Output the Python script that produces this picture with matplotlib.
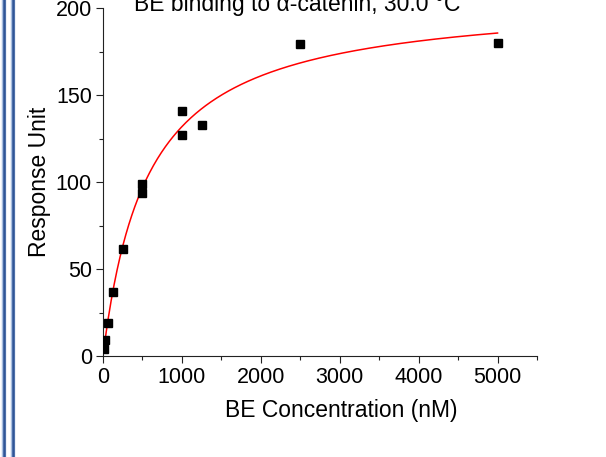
import numpy as np
import matplotlib
matplotlib.use('Agg')
import matplotlib.pyplot as plt
from matplotlib.lines import Line2D
from matplotlib.ticker import MultipleLocator

plt.rcParams['font.family'] = ['Liberation Sans', 'DejaVu Sans']

# BE concentrations (nM) and SPR responses
conc = [15.6, 31.25, 62.5, 125, 250, 500, 500, 1000, 1000, 1250, 2500, 5000]
response = [4.0, 9.2, 19.0, 36.6, 61.7, 98.9, 93.7, 140.8, 127.0, 132.8, 179.3, 180.0]

# one-site binding fit: R = Bmax * C / (Kd + C)
bmax = 206.7
kd = 568.0

xfit = np.linspace(conc[0], conc[-1], 400)
yfit = bmax * xfit / (kd + xfit)

fig = plt.figure(figsize=(6.06, 4.57), dpi=100)
ax = fig.add_axes([103 / 606, 1 - 356 / 457, 434 / 606, 348 / 457])

ax.plot(xfit, yfit, color='#ff0000', lw=1.1, zorder=2)
ax.plot(conc, response, ls='none', marker='s', ms=5.4, color='black', zorder=3)

ax.set_xlim(0, 5500)
ax.set_ylim(0, 200)
ax.xaxis.set_major_locator(MultipleLocator(1000))
ax.xaxis.set_minor_locator(MultipleLocator(500))
ax.yaxis.set_major_locator(MultipleLocator(50))
ax.yaxis.set_minor_locator(MultipleLocator(25))

for side in ['top', 'right']:
    ax.spines[side].set_visible(False)
for side in ['left', 'bottom']:
    ax.spines[side].set_linewidth(0.8)
    ax.spines[side].set_color('#222222')

ax.tick_params(which='major', direction='out', length=5, width=0.8,
               color='#222222', labelsize=15.5, pad=3)
ax.tick_params(which='minor', direction='out', length=3, width=0.8, color='#222222')

ax.set_xlabel('BE Concentration (nM)', fontsize=16.5)
ax.set_ylabel('Response Unit', fontsize=16.5)
ax.xaxis.set_label_coords((341.5 - 103) / 434, -(399 - 356) / 348)
ax.yaxis.set_label_coords(-(103 - 51) / 434, 0.5)

fig.text(297 / 606, 1 - 11 / 457, 'BE binding to \u03b1-catenin, 30.0 \u00b0C',
         ha='center', va='baseline', fontsize=16.5)

# double rule along the left margin
for xp in [3.5, 12.5]:
    fig.add_artist(Line2D([xp / 606, xp / 606], [0, 1], color='#a9bfe0', lw=3.2,
                          transform=fig.transFigure))
    fig.add_artist(Line2D([xp / 606, xp / 606], [0, 1], color='#2f5597', lw=1.8,
                          transform=fig.transFigure))

fig.savefig('out.png', dpi=100)
